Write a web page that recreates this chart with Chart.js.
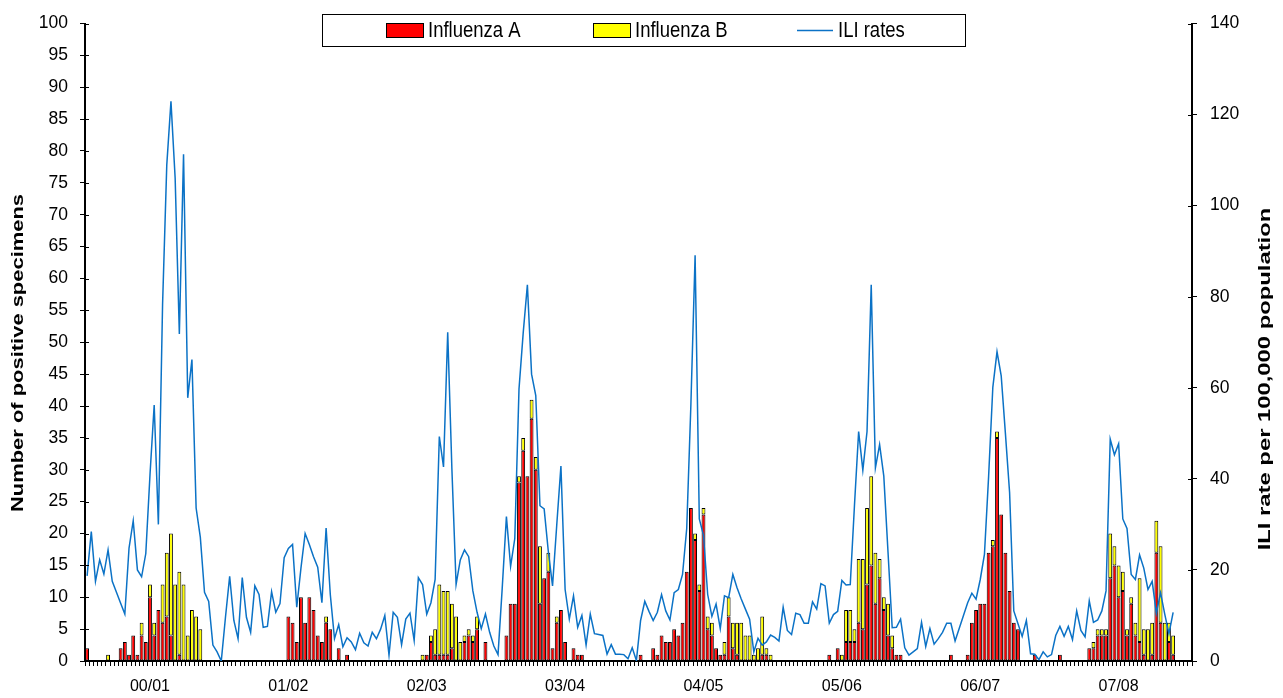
<!DOCTYPE html>
<html>
<head>
<meta charset="utf-8">
<script src="https://cdn.jsdelivr.net/npm/chart.js@4.4.1/dist/chart.umd.min.js"></script>
<style>
  html, body { margin: 0; padding: 0; background: #fff; }
  #wrap { width: 1283px; height: 698px; }
</style>
</head>
<body>
<div id="wrap"><canvas id="chart" width="1283" height="698"></canvas></div>
<script>
// ── Weekly surveillance data, one block per season (weeks 40 → 20, 33 weeks) ──
const seasonNames = ['00/01', '01/02', '02/03', '03/04', '04/05', '05/06', '06/07', '07/08'];
const WEEKS = 33;
const LABEL_WEEK = 15;   // week slot that carries the season label

const fluA_0001 = [2,0,0,0,0,0,0,0,2,3,1,4,1,4,3,10,4,8,6,7,4,0,1,0,0,0,0,0,0,0,0,0,0];
const fluB_0001 = [0,0,0,0,0,1,0,0,0,0,0,0,0,2,0,2,2,0,6,10,16,12,13,12,4,8,7,5,0,0,0,0,0];
const ili_0001  = [18.7,28.4,17.5,22.2,19.1,24.4,17.5,15.1,12.7,10.3,24.8,30.8,20.0,18.5,23.6,40.9,56.2,30.0,78.3,108.9,122.9,106.0,71.8,111.3,57.8,66.2,33.6,27.2,15.1,13.1,3.5,2.0,0.0];

const fluA_0102 = [0,0,0,0,0,0,0,0,0,0,0,0,0,0,0,7,6,3,10,6,10,8,4,3,6,5,0,2,0,1,0,0,0];
const fluB_0102 = [0,0,0,0,0,0,0,0,0,0,0,0,0,0,0,0,0,0,0,0,0,0,0,0,1,0,0,0,0,0,0,0,0];
const ili_0102  = [9.6,18.6,8.9,4.9,18.3,9.6,6.3,16.5,14.6,7.4,7.6,15.2,10.7,12.6,22.7,24.7,25.6,11.8,20.4,28.0,25.6,22.9,20.6,12.8,29.2,14.6,4.9,8.0,3.1,5.1,4.2,2.5,6.1];

const fluA_0203 = [0,0,0,0,0,0,0,0,0,0,0,0,0,0,0,1,3,1,1,1,1,2,0,0,3,4,3,5,0,3,0,0,0];
const fluB_0203 = [0,0,0,0,0,0,0,0,0,0,0,0,0,0,1,0,1,4,11,10,10,7,7,3,1,1,1,2,0,0,0,0,0];
const ili_0203  = [4.0,3.3,6.3,4.9,7.0,10.0,1.3,10.7,9.6,3.6,9.2,10.5,4.5,18.3,16.8,10.3,12.8,17.9,49.3,42.6,72.2,42.1,16.8,22.2,24.4,22.9,15.4,10.7,7.1,10.3,6.3,3.3,1.4];

const fluA_0304 = [0,4,9,9,28,33,29,38,30,9,13,14,2,6,8,3,0,2,1,1,0,0,0,0,0,0,0,0,0,0,0,0,0];
const fluB_0304 = [0,0,0,0,1,2,0,3,2,9,0,3,0,1,0,0,0,0,0,0,0,0,0,0,0,0,0,0,0,0,0,0,0];
const ili_0304  = [16.0,31.7,20.8,26.9,59.7,72.0,82.6,63.0,58.3,34.1,33.4,24.0,16.5,29.8,42.8,15.7,9.2,14.3,7.4,10.0,3.5,10.3,6.0,5.8,5.6,1.5,3.6,1.5,1.5,1.4,0.5,2.9,0.1];

const fluA_0405 = [1,0,0,2,1,4,3,3,5,4,6,14,24,19,11,23,5,4,2,1,1,7,2,1,0,0,0,0,0,1,1,0,0];
const fluB_0405 = [0,0,0,0,0,0,0,0,0,0,0,0,0,1,1,1,2,2,0,0,2,3,4,5,6,4,4,1,2,6,1,1,0];
const ili_0405  = [8.9,13.1,10.9,8.9,10.7,14.6,11.0,9.0,15.0,15.7,19.0,29.1,56.5,89.1,31.2,27.6,14.6,9.8,12.5,7.1,14.3,13.9,19.0,16.1,13.6,11.4,9.2,2.0,5.0,3.5,4.2,5.7,5.2];

const fluA_0506 = [0,0,0,0,0,0,0,0,0,0,0,0,1,0,2,0,3,3,3,6,5,12,15,9,13,8,4,2,1,1,0,0,0];
const fluB_0506 = [0,0,0,0,0,0,0,0,0,0,0,0,0,0,0,1,5,5,2,10,11,12,14,8,3,2,5,2,0,0,0,0,0];
const ili_0506  = [4.4,11.8,6.7,5.8,10.5,10.2,8.3,8.3,13.0,11.4,17.0,16.5,8.3,10.2,10.9,17.7,16.7,16.8,34.1,50.4,41.9,50.4,82.6,42.4,47.5,40.6,24.0,7.3,7.4,9.2,2.9,1.3,2.0];

const fluA_0607 = [0,0,0,0,0,0,0,0,1,0,0,0,1,6,8,9,9,17,18,35,23,17,11,6,5,0,0,0,1,0,0,0,0];
const fluB_0607 = [0,0,0,0,0,0,0,0,0,0,0,0,0,0,0,0,0,0,1,1,0,0,0,0,0,0,0,0,0,0,0,0,0];
const ili_0607  = [2.7,8.5,3.2,7.1,3.7,4.9,6.3,8.3,8.3,4.4,7.2,10.0,12.8,14.9,13.6,17.9,23.4,40.6,60.1,67.9,62.6,50.0,37.0,11.0,8.2,5.4,8.9,1.6,1.5,0.3,2.0,0.9,1.4];

const fluA_0708 = [0,1,0,0,0,0,0,0,2,2,4,4,4,13,15,10,11,4,9,4,3,1,0,1,17,6,0,3,1,null,null,null,null];
const fluB_0708 = [0,0,0,0,0,0,0,0,0,1,1,1,1,7,3,5,3,1,1,2,10,4,5,5,5,12,6,3,3,null,null,null,null];
const ili_0708  = [5.6,7.6,5.4,7.6,4.7,11.0,6.7,5.3,13.2,8.5,9.0,11.0,15.4,48.7,45.3,47.7,31.2,29.1,19.0,17.9,23.3,20.4,15.7,17.5,10.5,15.0,10.3,6.0,10.7,null,null,null,null];

// ── Join the seasons into one weekly axis ──
const fluA = [].concat(fluA_0001, fluA_0102, fluA_0203, fluA_0304, fluA_0405, fluA_0506, fluA_0607, fluA_0708);
const fluB = [].concat(fluB_0001, fluB_0102, fluB_0203, fluB_0304, fluB_0405, fluB_0506, fluB_0607, fluB_0708);
const iliRates = [].concat(ili_0001, ili_0102, ili_0203, ili_0304, ili_0405, ili_0506, ili_0607, ili_0708);

const weekLabels = [];
seasonNames.forEach(name => {
  for (let w = 0; w < WEEKS; w++) weekLabels.push(w === LABEL_WEEK ? name : '');
});

const FONT = "'Liberation Sans', Arial, sans-serif";
const RED = '#FF0000', YELLOW = '#FFFF00', BLUE = '#0B72C6';

// rotated title, stretched a little along its length like the original
function vTitle(c, text, x, y, stretch) {
  c.save();
  c.translate(x, y);
  c.rotate(-Math.PI / 2);
  c.scale(stretch, 1);
  c.fillText(text, 0, 0);
  c.restore();
}

// ── Legend box, axis titles and inner tick halves ──
const decorPlugin = {
  id: 'decor',
  afterDraw(chart) {
    const c = chart.ctx;
    const { y, y2 } = chart.scales;
    c.save();
    // tick marks cross the value axes
    c.strokeStyle = '#000';
    c.lineWidth = 1;
    c.beginPath();
    y.ticks.forEach(t => {
      const py = Math.round(y.getPixelForValue(t.value)) + 0.5;
      c.moveTo(y.right, py); c.lineTo(y.right + 4, py);
    });
    y2.ticks.forEach(t => {
      const py = Math.round(y2.getPixelForValue(t.value)) + 0.5;
      c.moveTo(y2.left - 4, py); c.lineTo(y2.left, py);
    });
    c.stroke();
    // legend
    c.fillStyle = '#fff';
    c.fillRect(322, 14, 643, 32);
    c.strokeRect(322.5, 14.5, 643, 32);
    c.fillStyle = RED;
    c.fillRect(386, 23, 37, 14);
    c.strokeRect(386.5, 23.5, 37, 14);
    c.fillStyle = YELLOW;
    c.fillRect(593, 23, 37, 14);
    c.strokeRect(593.5, 23.5, 37, 14);
    c.strokeStyle = BLUE;
    c.lineWidth = 1.5;
    c.beginPath(); c.moveTo(797, 30.5); c.lineTo(833, 30.5); c.stroke();
    c.fillStyle = '#000';
    c.textAlign = 'left';
    c.textBaseline = 'alphabetic';
    c.font = `18.5px ${FONT}`;
    [['Influenza A', 428], ['Influenza B', 635], ['ILI rates', 838]].forEach(([t, x]) => {
      c.save();
      c.translate(x, 37);
      c.scale(1, 1.15);
      c.fillText(t, 0, 0);
      c.restore();
    });
    // axis titles
    c.font = `bold 17px ${FONT}`;
    c.textAlign = 'center';
    c.textBaseline = 'middle';
    vTitle(c, 'Number of positive specimens', 18, 353, 1.29);
    vTitle(c, 'ILI rate per 100,000 population', 1265, 379, 1.4);
    c.restore();
  }
};

const ctx = document.getElementById('chart');
new Chart(ctx, {
  type: 'bar',
  data: {
    labels: weekLabels,
    datasets: [
      {
        type: 'line', label: 'ILI rates', data: iliRates, yAxisID: 'y2',
        borderColor: BLUE, borderWidth: 1.5, pointRadius: 0, tension: 0, order: 0
      },
      {
        label: 'Influenza A', data: fluA.map(v => v || null), yAxisID: 'y',
        backgroundColor: RED, borderColor: '#000', borderWidth: 1, borderSkipped: false,
        barPercentage: 0.92, categoryPercentage: 1, order: 1
      },
      {
        label: 'Influenza B', data: fluB.map(v => v || null), yAxisID: 'y',
        backgroundColor: YELLOW, borderColor: '#000', borderWidth: 1, borderSkipped: false,
        barPercentage: 0.92, categoryPercentage: 1, order: 1
      }
    ]
  },
  options: {
    responsive: false,
    animation: false,
    layout: { padding: { top: 14, left: 0, right: 0, bottom: 0 } },
    plugins: { legend: { display: false }, tooltip: { enabled: false } },
    scales: {
      x: {
        stacked: true,
        offset: true,
        grid: { display: true, drawOnChartArea: false, drawTicks: true, tickLength: 5, color: '#000', offset: true },
        border: { display: true, color: '#000', width: 2 },
        ticks: { autoSkip: false, maxRotation: 0, minRotation: 0, color: '#000', padding: 11, font: { family: FONT, size: 16 } },
        afterFit(s) { s.height = 37; }
      },
      y: {
        stacked: true, min: 0, max: 100,
        grid: { drawOnChartArea: false, tickLength: 5, color: '#000' },
        border: { display: true, color: '#000', width: 2 },
        ticks: { stepSize: 5, color: '#000', padding: 12, font: { family: FONT, size: 17.5 } },
        afterFit(s) { s.width = 85; }
      },
      y2: {
        position: 'right', min: 0, max: 140,
        grid: { drawOnChartArea: false, tickLength: 5, color: '#000' },
        border: { display: true, color: '#000', width: 2 },
        ticks: { stepSize: 20, color: '#000', padding: 13, font: { family: FONT, size: 17.5 } },
        afterFit(s) { s.width = 91; }
      }
    }
  },
  plugins: [decorPlugin]
});
</script>
</body>
</html>
